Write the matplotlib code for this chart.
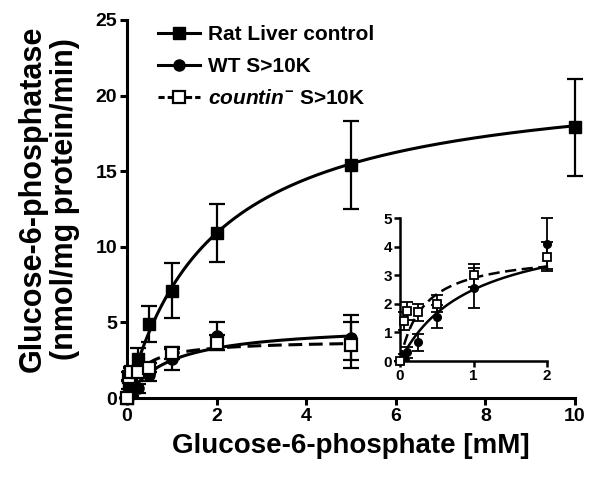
import numpy as np
import matplotlib
matplotlib.use("Agg")
import matplotlib.pyplot as plt
from matplotlib.lines import Line2D

plt.rcParams['font.family'] = ['Liberation Sans', 'DejaVu Sans']
plt.rcParams['font.weight'] = 'bold'
plt.rcParams['mathtext.fontset'] = 'custom'
plt.rcParams['mathtext.it'] = 'Liberation Sans:italic'
plt.rcParams['mathtext.rm'] = 'Liberation Sans:bold'
plt.rcParams['mathtext.bf'] = 'Liberation Sans:bold'

# ---- data ----
rat_x = [0, 0.05, 0.1, 0.25, 0.5, 1, 2, 5, 10]
rat_y = [0, 0.9, 1.5, 2.6, 4.9, 7.1, 10.9, 15.4, 17.9]
rat_err = [0, 0.3, 0.5, 0.7, 1.2, 1.8, 1.9, 2.9, 3.2]
rat_vmax, rat_km = 21.5, 1.94

wt_x = [0, 0.05, 0.1, 0.25, 0.5, 1, 2, 5]
wt_y = [0, 0.15, 0.3, 0.65, 1.55, 2.55, 4.1, 4.0]
wt_err = [0, 0.1, 0.2, 0.3, 0.4, 0.7, 0.9, 1.5]
wt_vmax, wt_km = 4.89, 0.96

ct_x = [0, 0.05, 0.1, 0.25, 0.5, 1, 2, 5]
ct_y = [0, 1.4, 1.75, 1.7, 2.0, 3.0, 3.65, 3.5]
ct_err = [0, 0.3, 0.3, 0.3, 0.3, 0.4, 0.5, 1.5]
ct_vmax, ct_km = 3.83, 0.32

labels = ['Rat Liver control', 'WT S>10K', r'$\mathit{countin}^{-}$ S>10K']
xticks_main = [0, 2, 4, 6, 8, 10]
yticks_main = [0, 5, 10, 15, 20, 25]
xticks_inset = [0, 1, 2]
yticks_inset = [0, 1, 2, 3, 4, 5]

def mm(x, vmax, km):
    return vmax * x / (km + x)

DASH = (0, (4.5, 2.2))

fig = plt.figure(figsize=(6, 4.86), dpi=100)
ax = fig.add_axes([127/600, 1-398/486, 448/600, 378/486])

def draw(a, xmax, ms_sq, ms_ci, lw, elw, cap, main=True):
    sel = lambda arr, xa: [v for v, xv in zip(arr, xa) if xv <= xmax]
    if main:
        xr = np.linspace(0, max(rat_x), 300)
        a.plot(xr, mm(xr, rat_vmax, rat_km), color='k', lw=lw, clip_on=False, zorder=2)
    xw = np.linspace(0, min(xmax, max(wt_x)), 300)
    a.plot(xw, mm(xw, wt_vmax, wt_km), color='k', lw=lw, clip_on=False, zorder=2)
    xc = np.linspace(0, min(xmax, max(ct_x)), 300)
    a.plot(xc, mm(xc, ct_vmax, ct_km), color='k', lw=lw, ls=DASH, clip_on=False, zorder=2)
    if main:
        a.errorbar(rat_x, rat_y, yerr=rat_err, fmt='s', color='k', ms=ms_sq,
                   elinewidth=elw, capsize=cap, capthick=elw, clip_on=False, zorder=4)
    a.errorbar(sel(wt_x, wt_x), sel(wt_y, wt_x), yerr=sel(wt_err, wt_x), fmt='o', color='k', ms=ms_ci,
               elinewidth=elw, capsize=cap, capthick=elw, clip_on=False, zorder=4)
    a.errorbar(sel(ct_x, ct_x), sel(ct_y, ct_x), yerr=sel(ct_err, ct_x), fmt='s', color='k', mfc='white',
               mew=elw, ms=ms_ci, elinewidth=elw, capsize=cap, capthick=elw, clip_on=False, zorder=5)

draw(ax, 10, 9, 8, 2.2, 1.6, 6)
ax.set_xlim(0, 10)
ax.set_ylim(0, 25)
ax.set_xticks(xticks_main)
ax.set_yticks(yticks_main)
for s in ['top', 'right']:
    ax.spines[s].set_visible(False)
for s in ['left', 'bottom']:
    ax.spines[s].set_linewidth(2.2)
ax.tick_params(width=2.2, length=5, labelsize=14, pad=2)
ax.set_xlabel('Glucose-6-phosphate [mM]', fontsize=20, fontweight='bold', labelpad=6)
ax.set_ylabel('Glucose-6-phosphatase\n(nmol/mg protein/min)', fontsize=22, fontweight='bold',
              linespacing=1.1)
ax.yaxis.set_label_coords((80-127)/448, (398-199)/378)

handles = [
    Line2D([], [], color='k', lw=2.2, marker='s', ms=9),
    Line2D([], [], color='k', lw=2.2, marker='o', ms=8),
    Line2D([], [], color='k', lw=2.2, ls=(0, (2, 1)), marker='s', ms=8, mfc='white', mew=1.6),
]
fig.legend(handles, labels, loc='upper left', bbox_to_anchor=(158/600, 1-25/486), frameon=False,
           borderpad=0, borderaxespad=0,
           prop={'size': 15, 'weight': 'bold'}, handlelength=2.0, labelspacing=0.62, handletextpad=0.4)

ins = fig.add_axes([400/600, 1-361/486, 147/600, 143/486])
draw(ins, 2, 6, 5.5, 1.8, 1.3, 4, main=False)
ins.set_xlim(0, 2)
ins.set_ylim(0, 5)
ins.set_xticks(xticks_inset)
ins.set_yticks(yticks_inset)
for s in ['top', 'right']:
    ins.spines[s].set_visible(False)
for s in ['left', 'bottom']:
    ins.spines[s].set_linewidth(1.8)
ins.tick_params(width=1.8, length=4, labelsize=11, pad=1.5)
ins.patch.set_alpha(0)

fig.savefig('out.png', dpi=100)
